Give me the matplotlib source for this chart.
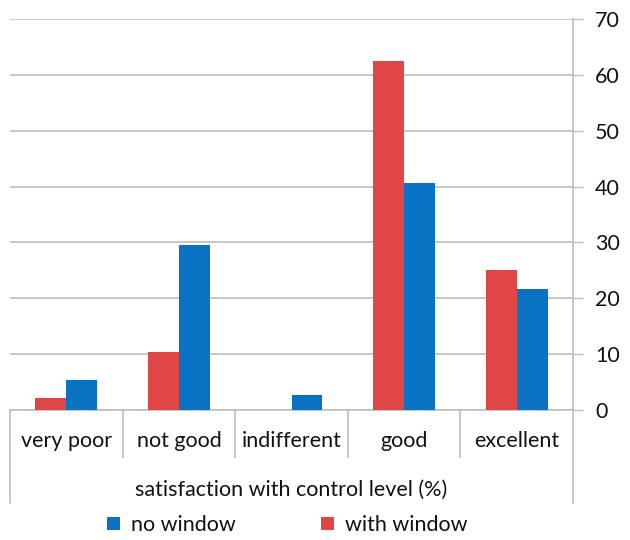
import matplotlib
matplotlib.use("Agg")
import matplotlib.pyplot as plt
import matplotlib.transforms as mtransforms
from matplotlib.patches import Patch
import numpy as np

plt.rcParams['font.family'] = ['Lato', 'DejaVu Sans']

categories = ["very poor", "not good", "indifferent", "good", "excellent"]
with_window = [2.1, 10.4, 0.0, 62.5, 25.0]
no_window = [5.4, 29.6, 2.7, 40.6, 21.6]
y_ticks = [0, 10, 20, 30, 40, 50, 60, 70]

RED = "#E04646"
BLUE = "#0A72C3"
GRID = "#BDBDBD"
TEXT = "#111111"

fig = plt.figure(figsize=(6.3, 5.4), dpi=100)
ax = fig.add_axes([10 / 630, (540 - 410) / 540, 563 / 630, 391 / 540])

x = np.arange(len(categories))
w = 0.275
ax.bar(x - w / 2, with_window, width=w, color=RED, zorder=3)
ax.bar(x + w / 2, no_window, width=w, color=BLUE, zorder=3)

ax.set_xlim(-0.5, len(categories) - 0.5)
ax.set_ylim(0, 70)
ax.set_yticks(y_ticks)
ax.yaxis.tick_right()
ax.tick_params(axis='y', direction='out', length=7, width=1, color=GRID,
               labelsize=15.5, labelcolor=TEXT, pad=9)
ax.set_xticks([])
ax.grid(axis='y', color=GRID, linewidth=1.2, zorder=0)

for side in ("top", "left"):
    ax.spines[side].set_visible(False)
for side in ("right", "bottom"):
    ax.spines[side].set_color(GRID)
    ax.spines[side].set_linewidth(1.2)

# category table below the axis
trans = mtransforms.blended_transform_factory(ax.transData, ax.transAxes)
for b in np.arange(0.5, len(categories) - 1, 1.0):
    ax.plot([b, b], [0, -0.12], transform=trans, color=GRID, lw=1.2,
            clip_on=False)
for b in (-0.5, len(categories) - 0.5):
    ax.plot([b, b], [0, -0.238], transform=trans, color=GRID, lw=1.2,
            clip_on=False)
for xi, name in zip(x, categories):
    ax.text(xi, -0.079, name, transform=trans, ha='center', va='center',
            fontsize=15.5, color=TEXT)

ax.text(0.5, -0.205, "satisfaction with control level (%)",
        transform=ax.transAxes, ha='center', va='center', fontsize=15.5,
        color=TEXT)

handles = [Patch(facecolor=BLUE, label="no window"),
           Patch(facecolor=RED, label="with window")]
leg = fig.legend(handles=handles, loc='center',
                 bbox_to_anchor=(0.456, 1 - 525 / 540), ncol=2,
                 frameon=False, fontsize=15.5, handlelength=0.6,
                 handleheight=0.6, handletextpad=0.5, columnspacing=4.0)
for t in leg.get_texts():
    t.set_color(TEXT)

fig.savefig("out.png", dpi=100, facecolor="white")
